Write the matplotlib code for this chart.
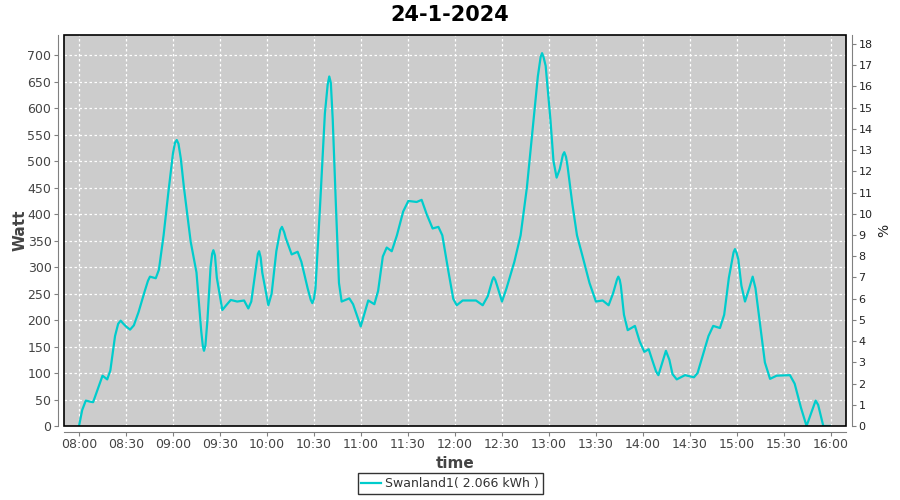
import matplotlib
matplotlib.use("Agg")
import matplotlib.pyplot as plt
from matplotlib.patches import Rectangle

# minutes after 08:00 and power in watt
minutes = [0, 2, 4.3, 7, 9, 12, 15, 18, 20, 23, 25, 26.6, 28, 30, 32.6, 35, 38, 42, 44,
           45.3, 49, 51, 54, 57, 60, 61.3, 62.4, 63.5, 65, 67, 71.3, 75, 78, 79.1,
           79.8, 80.7, 82, 84, 85, 85.8, 86.8, 88, 91.5, 94, 96.9, 101, 105.4, 108.1,
           110, 113, 114.2, 115, 116, 117, 120.9, 123, 126, 128.5, 129.6, 131, 132,
           135.8, 139.6, 142, 146, 148, 149, 150, 151, 154, 157, 158.8, 159.8, 160.8,
           162, 164, 166, 167.7, 172.6, 175, 179.9, 183, 184.7, 188.6, 191, 194,
           196.5, 199.7, 203, 207, 210.3, 215.6, 218.8, 222, 225.8, 229.5, 232, 236,
           239, 241.2, 245, 253.5, 257.8, 261, 264, 264.8, 265.8, 267, 270.1, 273,
           278, 282, 286, 290, 293, 294.8, 295.7, 296.6, 298, 301, 303, 305, 307,
           309, 309.9, 311, 312, 315, 318, 321.6, 326, 330.1, 334.4, 338.2, 341,
           343.6, 344.4, 345.3, 346, 348, 350.4, 355, 358, 361, 363.8, 366, 368.5,
           370, 372, 374.8, 377, 379, 381.7, 387, 392.7, 395, 398, 402, 405, 409.3,
           412, 415, 418, 418.9, 420, 421, 423, 425.3, 428, 430.2, 432, 435, 438,
           441.3, 445.5, 454, 457, 461, 464.6, 467, 470.4, 472, 475.3, 479.6]
watt = [0, 30, 48, 46, 45, 70, 95, 88, 105, 170, 193, 199, 194, 188, 182, 190, 215, 255, 274,
        282, 279, 295, 360, 440, 515, 535, 540, 533, 505, 450, 348, 290, 180, 150,
        142, 152, 200, 300, 325, 332, 322, 280, 219, 228, 238, 235, 237, 222,
        235, 300, 325, 330, 318, 290, 228, 250, 330, 370, 376, 366, 355,
        324, 329, 310, 260, 238, 232, 240, 260, 420, 590, 645, 660, 648,
        580, 420, 270, 235, 241, 230, 188, 220, 237, 230, 255, 320,
        337, 330, 360, 405, 425, 423, 427, 400, 373, 376, 360, 290,
        240, 228, 237, 237, 228, 245, 276, 281, 276, 265, 235, 260,
        310, 360, 450, 570, 660, 697, 704, 697, 680, 580, 500, 469, 485,
        512, 517, 508, 490, 420, 360, 320, 270, 235, 237, 228, 250,
        277, 282, 276, 265, 210, 181, 189, 160, 140, 145, 125, 103,
        96, 115, 142, 125, 98, 88, 96, 92, 100, 130, 170, 189, 185,
        210, 280, 328, 334, 326, 315, 265, 235, 260, 282, 260, 190, 120,
        89, 95, 96, 80, 35, 0, 20, 48, 40, 0, 0]

tick_minutes = list(range(0, 481, 30))
tick_labels = ["08:00", "08:30", "09:00", "09:30", "10:00", "10:30", "11:00", "11:30",
               "12:00", "12:30", "13:00", "13:30", "14:00", "14:30", "15:00", "15:30",
               "16:00"]
watt_ticks = list(range(0, 701, 50))
pct_ticks = list(range(0, 19))
legend_label = "Swanland1( 2.066 kWh )"

fig = plt.figure(figsize=(9, 5), dpi=100)
ax = fig.add_axes([64 / 900, 74 / 500, 782 / 900, 391 / 500])
ax.set_facecolor("#cccccc")
ax.plot(minutes, watt, color="#00cccc", lw=1.6, label=legend_label)

ax.set_xlim(-9.6, 489.8)
ax.set_ylim(0, 738.3)
ax.set_xticks(tick_minutes)
ax.set_xticklabels(tick_labels)
ax.set_yticks(watt_ticks)
ax.grid(True, color="white", ls=(0, (2, 2)), lw=0.9)

ax2 = ax.twinx()
ax2.set_ylim(0, 738.3 / 40.08)
ax2.set_yticks(pct_ticks)

for a in (ax, ax2):
    for s in a.spines.values():
        s.set_visible(False)
ax.spines["left"].set_visible(True)
ax.spines["bottom"].set_visible(True)
ax2.spines["right"].set_visible(True)
for s, a in (("left", ax), ("bottom", ax), ("right", ax2)):
    a.spines[s].set_position(("outward", 4))
    a.spines[s].set_color("#808080")

ax.tick_params(axis="both", direction="out", length=3, width=0.8, color="#808080",
               labelsize=9, labelcolor="#444444", pad=2)
ax2.tick_params(axis="y", direction="out", length=3, width=0.8, color="#808080",
                labelsize=8, labelcolor="#222222", pad=2)

ax2.add_patch(Rectangle((0, 0), 1, 1, transform=ax2.transAxes, fill=False,
                        edgecolor="black", lw=1.2, clip_on=False, zorder=10))

ax.set_xlabel("time", fontsize=11, fontweight="bold", color="#444444", labelpad=3)
ax.set_ylabel("Watt", fontsize=11, fontweight="bold", color="#444444", labelpad=0)
ax2.set_ylabel("%", fontsize=10, color="#222222", labelpad=3)
fig.suptitle("24-1-2024", fontsize=15, fontweight="bold", y=0.99)

leg = fig.legend(loc="lower center", bbox_to_anchor=(0.5, 0.0), fontsize=9,
                 frameon=True, fancybox=False, edgecolor="black", handlelength=1.6,
                 handletextpad=0.3, borderpad=0.3, labelcolor="#333333")
leg.get_frame().set_linewidth(1.0)

fig.savefig("out.png", dpi=100)
